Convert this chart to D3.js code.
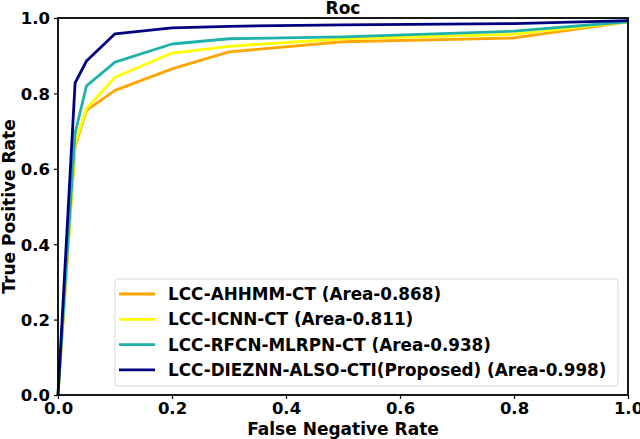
<!DOCTYPE html>
<html>
<head>
<meta charset="utf-8">
<script src="https://cdn.jsdelivr.net/npm/d3@7.9.0/dist/d3.min.js"></script>
<style>
  body { margin: 0; background: #fff; }
  text { font-family: "DejaVu Sans", sans-serif; font-weight: bold; }
</style>
</head>
<body>
<svg id="chart" width="640" height="439"></svg>
<script>
// ROC points
const fpr = [0, 0.03, 0.05, 0.1, 0.2, 0.3, 0.5, 0.8, 1.0];
const ahhmm = [0, 0.66, 0.755, 0.808, 0.865, 0.91, 0.937, 0.947, 0.99];
const icnn = [0, 0.668, 0.76, 0.843, 0.907, 0.925, 0.945, 0.957, 0.99];
const rfcn = [0, 0.695, 0.82, 0.883, 0.931, 0.945, 0.95, 0.965, 0.99];
const diezn = [0, 0.828, 0.886, 0.958, 0.974, 0.978, 0.982, 0.985, 0.993];

const seriesNames = [
  "LCC-AHHMM-CT (Area-0.868)",
  "LCC-ICNN-CT (Area-0.811)",
  "LCC-RFCN-MLRPN-CT (Area-0.938)",
  "LCC-DIEZNN-ALSO-CTI(Proposed) (Area-0.998)"
];
const seriesValues = [ahhmm, icnn, rfcn, diezn];
const colors = ["#ffa500", "#ffff00", "#20b2aa", "#000080"];
const ticks = [0, 0.2, 0.4, 0.6, 0.8, 1.0];

const margin = { left: 58, right: 12, top: 18, bottom: 44 };
const width = 640, height = 439;
const svg = d3.select("#chart");

const x = d3.scaleLinear().domain([0, 1]).range([margin.left, width - margin.right]);
const y = d3.scaleLinear().domain([0, 1]).range([height - margin.bottom, margin.top]);

// lines
const line = d3.line().x((d, i) => x(fpr[i])).y(d => y(d));
seriesValues.forEach((vals, i) => {
  svg.append("path")
    .attr("d", line(vals))
    .attr("fill", "none")
    .attr("stroke", colors[i])
    .attr("stroke-width", 2.8)
    .attr("stroke-linejoin", "round");
});

// axes
const xAxis = svg.append("g")
  .attr("transform", `translate(0,${y(0)})`)
  .call(d3.axisBottom(x).tickValues(ticks).tickFormat(d3.format(".1f")).tickSize(4).tickPadding(2));
const yAxis = svg.append("g")
  .attr("transform", `translate(${x(0)},0)`)
  .call(d3.axisLeft(y).tickValues(ticks).tickFormat(d3.format(".1f")).tickSize(4).tickPadding(4));
[xAxis, yAxis].forEach(g => {
  g.select(".domain").remove();
  g.selectAll("text").attr("font-size", 16.5).attr("fill", "#000");
  g.selectAll("line").attr("stroke", "#000").attr("stroke-width", 1.2);
});
xAxis.selectAll("text").attr("dy", "0.78em");
yAxis.selectAll("text").attr("dy", "0.36em");

// frame
svg.append("rect")
  .attr("x", x(0)).attr("y", y(1))
  .attr("width", x(1) - x(0)).attr("height", y(0) - y(1))
  .attr("fill", "none").attr("stroke", "#000").attr("stroke-width", 1.8);

// title and labels
svg.append("text").attr("x", (x(0) + x(1)) / 2).attr("y", 14)
  .attr("text-anchor", "middle").attr("font-size", 17).text("Roc");
svg.append("text").attr("x", (x(0) + x(1)) / 2).attr("y", 435)
  .attr("text-anchor", "middle").attr("font-size", 17).text("False Negative Rate");
svg.append("text")
  .attr("transform", `translate(15,${(y(0) + y(1)) / 2}) rotate(-90)`)
  .attr("text-anchor", "middle").attr("font-size", 17).text("True Positive Rate");

// legend
const legend = svg.append("g").attr("transform", "translate(115,279)");
legend.append("rect")
  .attr("width", 503).attr("height", 107).attr("rx", 3)
  .attr("fill", "#fff").attr("fill-opacity", 0.8)
  .attr("stroke", "#d9d9d9").attr("stroke-width", 1);
seriesNames.forEach((name, i) => {
  const row = legend.append("g").attr("transform", `translate(0,${15 + i * 25.3})`);
  row.append("line").attr("x1", 4).attr("x2", 40).attr("stroke", colors[i]).attr("stroke-width", 2.8);
  row.append("text").attr("x", 53).attr("dy", "0.36em").attr("font-size", 16.8).text(name);
});
</script>
</body>
</html>
